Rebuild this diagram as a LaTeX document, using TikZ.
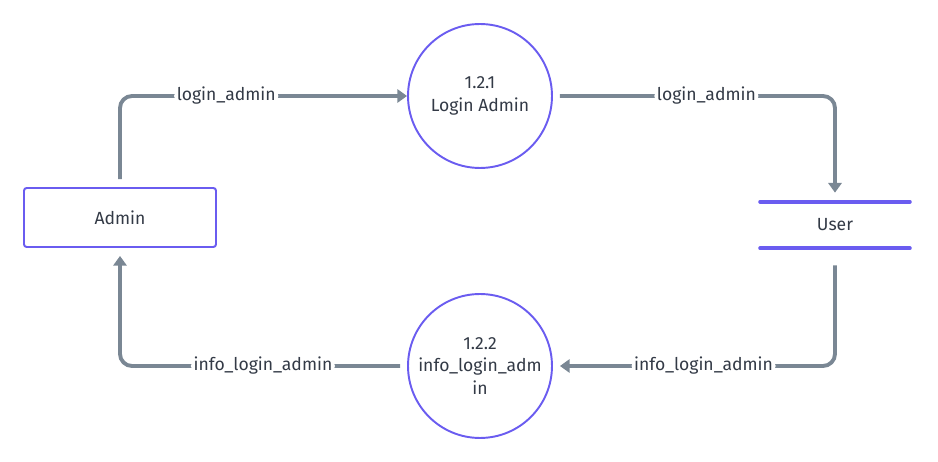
\documentclass[tikz,border=0pt]{standalone}
\usepackage{fontspec}
\setmainfont{Fira Sans}
\usetikzlibrary{arrows.meta,positioning}
\definecolor{procline}{RGB}{106,92,240}
\definecolor{flowcol}{RGB}{122,135,148}
\definecolor{txtcol}{RGB}{51,58,70}

\begin{document}
\begin{tikzpicture}[x=0.02cm,y=-0.02cm,>=Stealth,
    font=\fontsize{10}{13}\selectfont,text=txtcol,
    entity/.style={draw=procline,line width=1.1pt,rounded corners=1.5pt,
        minimum width=3.84cm,minimum height=1.18cm,fill=white},
    process/.style={draw=procline,line width=1.1pt,circle,
        minimum size=2.88cm,inner sep=0pt,align=center},
    store/.style={draw=procline,line width=2.2pt,line cap=round},
    flow/.style={draw=flowcol,line width=2.2pt,rounded corners=0.24cm,
        -{Triangle[length=5.5pt,width=7.5pt]}},
    flowlbl/.style={fill=white,inner sep=1.5pt,text=txtcol}]
  \useasboundingbox (0,0) rectangle (938,462);
  % external entity, processes and the data store
  \node[entity] (admin) at (120,217.5) {Admin};
  \node[process] (login) at (480,96) {1.2.1\\Login Admin};
  \node[process] (info) at (480,366) {1.2.2\\info\_login\_adm\\in};
  \node[minimum width=2.98cm,minimum height=0.92cm] (user) at (835,225) {User};
  \draw[store] (user.north west) -- (user.north east);
  \draw[store] (user.south west) -- (user.south east);
  % data flows
  \draw[flow,shorten <=0.16cm] (admin.north) |- (login.west)
      node[flowlbl,pos=0.685] {login\_admin};
  \draw[flow,shorten <=0.14cm,shorten >=0.18cm] (login.east) -| (user.north)
      node[flowlbl,pos=0.272] {login\_admin};
  \draw[flow,shorten <=0.34cm,shorten >=0.14cm] (user.south) |- (info.east)
      node[flowlbl,pos=0.733] {info\_login\_admin};
  \draw[flow,shorten <=0.14cm,shorten >=0.16cm] (info.west) -| (admin.south)
      node[flowlbl,pos=0.251] {info\_login\_admin};
\end{tikzpicture}
\end{document}
